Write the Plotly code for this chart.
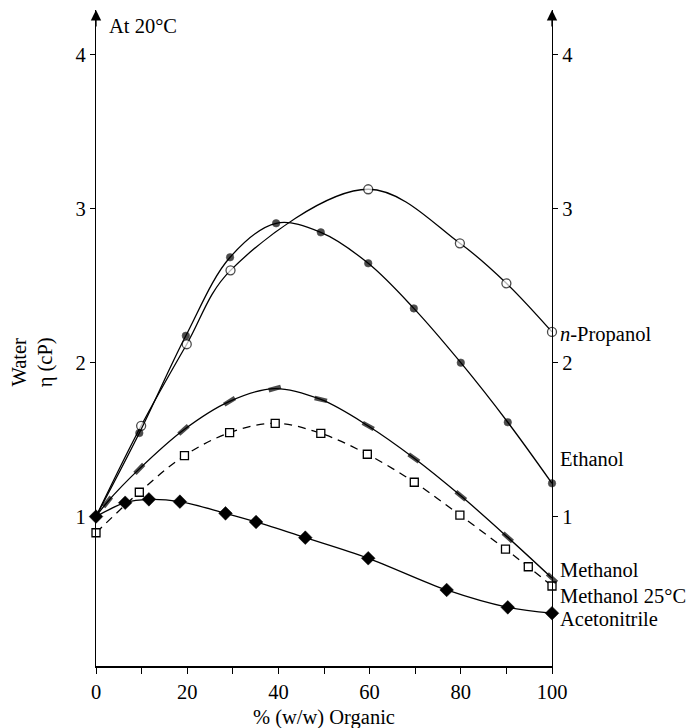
import plotly.graph_objects as go

# ---- data ----
propanol_x = [0, 9.9, 19.9, 29.5, 59.7, 79.8, 90.0, 100]
propanol_y = [1.0, 1.59, 2.12, 2.60, 3.127, 2.776, 2.516, 2.20]

ethanol_x = [0, 9.5, 19.7, 29.4, 39.5, 49.3, 59.7, 69.7, 80.0, 90.3, 100]
ethanol_y = [1.0, 1.543, 2.175, 2.685, 2.906, 2.847, 2.646, 2.353, 2.0, 1.613, 1.216]

methanol_x = [0, 2.5, 9.5, 19.2, 29.3, 39.2, 49.3, 59.7, 69.7, 80.0, 90.3, 100]
methanol_y = [1.0, 1.095, 1.31, 1.563, 1.749, 1.832, 1.761, 1.589, 1.381, 1.135, 0.865, 0.60]

methanol25_x = [0, 9.5, 19.4, 29.3, 39.3, 49.3, 59.5, 69.8, 79.8, 89.8, 94.8, 100]
methanol25_y = [0.895, 1.158, 1.396, 1.545, 1.606, 1.541, 1.405, 1.223, 1.010, 0.788, 0.674, 0.549]

acn_x = [0, 6.4, 11.6, 18.4, 28.4, 35.1, 45.9, 59.7, 76.9, 90.3, 100]
acn_y = [1.0, 1.09, 1.112, 1.097, 1.021, 0.965, 0.863, 0.729, 0.523, 0.41, 0.372]

x_ticks = [0, 10, 20, 30, 40, 50, 60, 70, 80, 90, 100]
x_ticktext = ["0", "", "20", "", "40", "", "60", "", "80", "", "100"]
y_ticks = [1, 2, 3, 4]

labels = [("<i>n</i>-Propanol", 2.185), ("Ethanol", 1.374), ("Methanol", 0.653),
          ("Methanol 25°C", 0.486), ("Acetonitrile", 0.333)]

FONT = "Liberation Serif"
FS = 20.5
Y_RANGE = [0.029, 4.292]
LW = 1.3

fig = go.Figure()

def sizes(n, s, first_hidden=True):
    return [0 if (i == 0 and first_hidden) else s for i in range(n)]

fig.add_trace(go.Scatter(
    x=propanol_x, y=propanol_y, mode="lines+markers", line=dict(color="black", width=LW, shape="spline", smoothing=1.0),
    marker=dict(symbol="circle", size=sizes(len(propanol_x), 9), color="white", line=dict(color="black", width=1.3)),
    cliponaxis=False, showlegend=False))

fig.add_trace(go.Scatter(
    x=ethanol_x, y=ethanol_y, mode="lines+markers", line=dict(color="black", width=LW, shape="spline", smoothing=1.0),
    marker=dict(symbol="circle", size=sizes(len(ethanol_x), 7.5), color="black", line=dict(color="black", width=0.6)),
    cliponaxis=False, showlegend=False))

fig.add_trace(go.Scatter(
    x=methanol25_x, y=methanol25_y, mode="lines+markers",
    line=dict(color="black", width=LW, shape="spline", smoothing=1.0, dash="8px,6px"),
    marker=dict(symbol="square", size=8, color="white", line=dict(color="black", width=1.3)),
    cliponaxis=False, showlegend=False))

fig.add_trace(go.Scatter(
    x=methanol_x, y=methanol_y, mode="lines+markers", line=dict(color="black", width=LW, shape="spline", smoothing=1.0),
    marker=dict(symbol="line-ew", size=sizes(len(methanol_x), 9), angle=90, angleref="previous",
                color="black", line=dict(color="black", width=4.5)),
    cliponaxis=False, showlegend=False))

fig.add_trace(go.Scatter(
    x=acn_x, y=acn_y, mode="lines+markers", line=dict(color="black", width=LW, shape="spline", smoothing=1.0),
    marker=dict(symbol="diamond", size=10.5, color="black", line=dict(color="black", width=0.5)),
    cliponaxis=False, showlegend=False))

# invisible trace to activate right axis
fig.add_trace(go.Scatter(x=[None], y=[None], yaxis="y2", showlegend=False, hoverinfo="skip"))

annotations = []
for text, yv in labels:
    annotations.append(dict(x=100, y=yv, xref="x", yref="y", text=text, showarrow=False,
                            xanchor="left", yanchor="middle", xshift=6,
                            font=dict(family=FONT, size=FS, color="black")))
annotations.append(dict(x=0, y=4.188, xref="x", yref="y", text="At 20°C", showarrow=False,
                        xanchor="left", yanchor="middle", xshift=11,
                        font=dict(family=FONT, size=FS, color="black")))
annotations.append(dict(x=-0.138, y=0.463, xref="paper", yref="paper", text="Water<br>η (cP)",
                        showarrow=False, textangle=-90, xanchor="center", yanchor="middle",
                        font=dict(family=FONT, size=FS, color="black")))
annotations.append(dict(x=0.5, y=-0.078, xref="paper", yref="paper", text="% (w/w) Organic",
                        showarrow=False, xanchor="center", yanchor="middle",
                        font=dict(family=FONT, size=FS, color="black")))
for xv in (0, 100):
    annotations.append(dict(x=xv, y=Y_RANGE[1], xref="x", yref="y", ax=0, ay=18, axref="pixel", ayref="pixel",
                            showarrow=True, arrowhead=2, arrowsize=1.6, arrowwidth=LW, arrowcolor="black",
                            standoff=0, text=""))

fig.update_layout(
    width=697, height=728,
    margin=dict(l=96, r=145, t=10, b=62),
    plot_bgcolor="white", paper_bgcolor="white",
    font=dict(family=FONT, size=FS, color="black"),
    xaxis=dict(range=[0, 100], tickvals=x_ticks, ticktext=x_ticktext, ticks="outside", ticklen=6,
               tickwidth=LW, tickcolor="black", showline=True, linecolor="black", linewidth=2,
               showgrid=False, zeroline=False, tickfont=dict(family=FONT, size=FS)),
    yaxis=dict(range=Y_RANGE, tickvals=y_ticks, ticks="outside", ticklen=5, tickwidth=LW,
               tickcolor="black", showline=True, linecolor="black", linewidth=LW,
               showgrid=False, zeroline=False, tickfont=dict(family=FONT, size=FS)),
    yaxis2=dict(range=Y_RANGE, tickvals=y_ticks, ticks="outside", ticklen=5, tickwidth=LW,
                tickcolor="black", showline=True, linecolor="black", linewidth=LW, overlaying="y",
                side="right", showgrid=False, zeroline=False, tickfont=dict(family=FONT, size=FS)),
    annotations=annotations,
)

fig.write_html("out.html")
